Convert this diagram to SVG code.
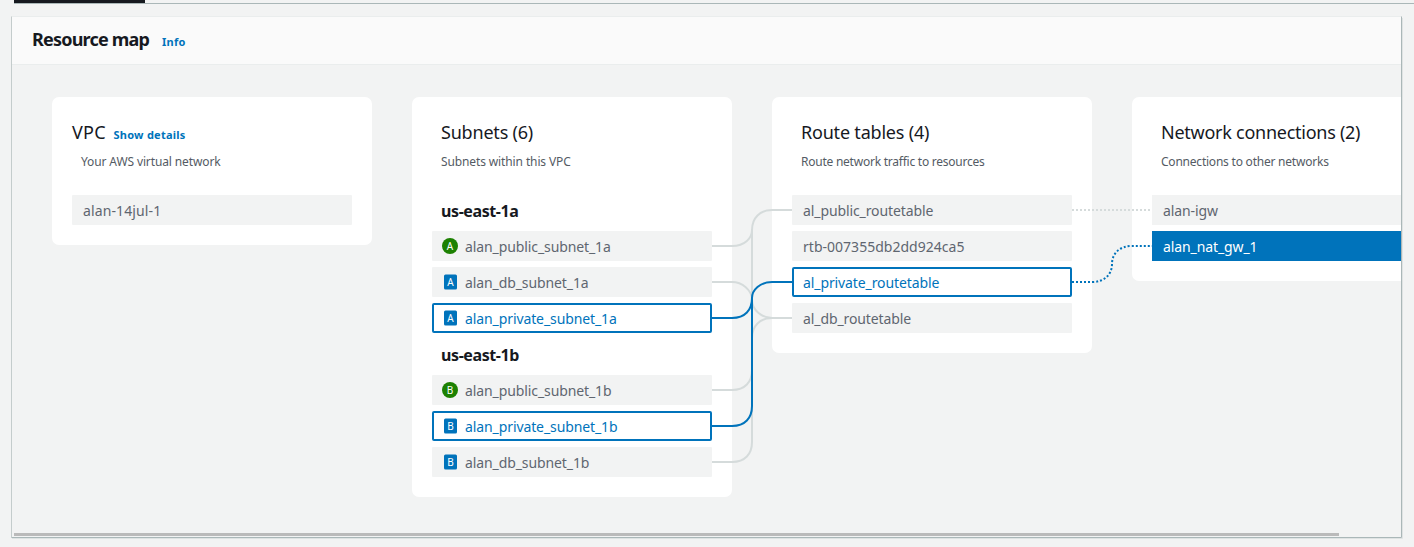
<svg xmlns="http://www.w3.org/2000/svg" width="1414" height="547" viewBox="0 0 1414 547">
<style>
text{font-family:"Noto Sans","Liberation Sans",sans-serif}
.card{fill:#fff}
.row{fill:#f2f3f3}
.t{font-size:14px;fill:#5f6670;letter-spacing:-.1px}
.sel{fill:#fff;stroke:#0073bb;stroke-width:2}
.b{fill:#0073bb}
.h{font-size:18px;fill:#16191f;letter-spacing:-.2px}
.sub{font-size:12px;fill:#545b64;letter-spacing:-.12px}
.az{font-size:16px;font-weight:700;fill:#16191f;letter-spacing:-.4px}
.link{font-size:11px;font-weight:700;fill:#0073bb;letter-spacing:.25px}
.badge{font-size:10px;fill:#fff;text-anchor:middle}
.c{fill:none;stroke:#d5dbdb;stroke-width:2}
.ca{fill:none;stroke:#0073bb;stroke-width:2}
</style>
<rect width="1414" height="547" fill="#f2f3f3"/>
<rect x="14" y="3" width="1400" height="1" fill="#aab7b8"/>
<rect x="14" y="0" width="131" height="3" fill="#16191f"/>
<g id="panel">
<rect x="12" y="17" width="1389" height="47" fill="#fafafa"/>
<rect x="12" y="64" width="1389" height="1" fill="#eaeded"/>
<path d="M11.500 16.500H1401.500" fill="none" stroke="#eaeded"/>
<path d="M11.500 16.500V537.500" fill="none" stroke="#c4cccc"/>
<path d="M1402.500 18V538.500H12" fill="none" stroke="#dfe3e3"/>
<path d="M1401.500 16.500V537.500H11.500" fill="none" stroke="#aab7b8"/>
<text x="32" y="46" font-size="18" font-weight="700" fill="#16191f" letter-spacing="-.8">Resource map</text>
<text x="162" y="46" class="link">Info</text>
<rect x="14" y="533" width="1325" height="3" fill="#bababa"/>
</g>
<g id="cards">
<rect class="card" x="52" y="97" width="320" height="148" rx="7"/>
<rect class="card" x="412" y="97" width="320" height="400" rx="7"/>
<rect class="card" x="772" y="97" width="320" height="256" rx="7"/>
<path class="card" d="M1401 97H1139a7 7 0 0 0-7 7V274a7 7 0 0 0 7 7H1401Z"/>
</g>
<g id="connectors">
<path class="c" d="M712 246H732C745 246 752 238 752 230C752 218 760 210 772 210H792"/>
<path class="c" d="M712 282H732C742 282 752 290 752 300C752 310 762 318 772 318H792"/>
<path class="c" d="M712 390H732C745 390 752 382 752 370V230"/>
<path class="c" d="M712 462H732C745 462 752 454 752 442V338C752 326 760 318 772 318"/>
<path class="c" stroke-dasharray="2 2" d="M1072 210H1152"/>
<path class="ca" d="M712 318H732C745 318 752 310 752 298C752 290 760 282 772 282H792"/>
<path class="ca" d="M712 426H732C745 426 752 418 752 406V298"/>
<path class="ca" stroke-dasharray="2 2" d="M1072 282H1092C1105 282 1112 274 1112 264C1112 254 1119 246 1132 246H1152"/>
</g>
<g id="vpc">
<text x="72" y="139" class="h" style="letter-spacing:.3px">VPC</text>
<text x="113.500" y="139" class="link">Show details</text>
<text x="81" y="166" class="sub">Your AWS virtual network</text>
<rect class="row" x="72" y="195" width="280" height="30" rx="1"/>
<text x="83" y="215.500" class="t" style="letter-spacing:.12px">alan-14jul-1</text>
</g>
<g id="subnets">
<text x="441" y="139" class="h">Subnets (6)</text>
<text x="441" y="166" class="sub">Subnets within this VPC</text>
<text x="441" y="217" class="az">us-east-1a</text>
<text x="441" y="361" class="az">us-east-1b</text>
</g>
<g id="alan_public_subnet_1a">
<rect class="row" x="432" y="231" width="280" height="30" rx="1"/>
<circle cx="450" cy="246" r="8" fill="#1d8102"/><text x="450" y="249.500" class="badge">A</text>
<text x="465" y="251.500" class="t">alan_public_subnet_1a</text>
</g>
<g id="alan_db_subnet_1a">
<rect class="row" x="432" y="267" width="280" height="30" rx="1"/>
<rect class="b" x="444" y="274.500" width="13" height="15" rx="1.500"/><text x="450.500" y="285.500" class="badge">A</text>
<text x="465" y="287.500" class="t">alan_db_subnet_1a</text>
</g>
<g id="alan_private_subnet_1a">
<rect class="sel" x="433" y="304" width="278" height="28" rx="1"/>
<rect class="b" x="444" y="310.500" width="13" height="15" rx="1.500"/><text x="450.500" y="321.500" class="badge">A</text>
<text x="465" y="323.500" class="t" style="fill:#0073bb">alan_private_subnet_1a</text>
</g>
<g id="alan_public_subnet_1b">
<rect class="row" x="432" y="375" width="280" height="30" rx="1"/>
<circle cx="450" cy="390" r="8" fill="#1d8102"/><text x="450" y="393.500" class="badge">B</text>
<text x="465" y="395.500" class="t">alan_public_subnet_1b</text>
</g>
<g id="alan_private_subnet_1b">
<rect class="sel" x="433" y="412" width="278" height="28" rx="1"/>
<rect class="b" x="444" y="418.500" width="13" height="15" rx="1.500"/><text x="450.500" y="429.500" class="badge">B</text>
<text x="465" y="431.500" class="t" style="fill:#0073bb">alan_private_subnet_1b</text>
</g>
<g id="alan_db_subnet_1b">
<rect class="row" x="432" y="447" width="280" height="30" rx="1"/>
<rect class="b" x="444" y="454.500" width="13" height="15" rx="1.500"/><text x="450.500" y="465.500" class="badge">B</text>
<text x="465" y="467.500" class="t">alan_db_subnet_1b</text>
</g>
<g id="route_tables">
<text x="801" y="139" class="h">Route tables (4)</text>
<text x="801" y="166" class="sub" style="letter-spacing:-.24px">Route network traffic to resources</text>
</g>
<g id="al_public_routetable">
<rect class="row" x="792" y="195" width="280" height="30" rx="1"/>
<text x="803" y="215.500" class="t">al_public_routetable</text>
</g>
<g id="rtb-007355db2dd924ca5">
<rect class="row" x="792" y="231" width="280" height="30" rx="1"/>
<text x="803" y="251.500" class="t" style="letter-spacing:.02px">rtb-007355db2dd924ca5</text>
</g>
<g id="al_private_routetable">
<rect class="sel" x="793" y="268" width="278" height="28" rx="1"/>
<text x="803" y="287.500" class="t" style="fill:#0073bb">al_private_routetable</text>
</g>
<g id="al_db_routetable">
<rect class="row" x="792" y="303" width="280" height="30" rx="1"/>
<text x="803" y="323.500" class="t">al_db_routetable</text>
</g>
<g id="network_connections">
<text x="1161" y="139" class="h" style="letter-spacing:-.26px">Network connections (2)</text>
<text x="1161" y="166" class="sub" style="letter-spacing:-.22px">Connections to other networks</text>
</g>
<g id="alan-igw">
<rect class="row" x="1152" y="195" width="249" height="30"/>
<text x="1163" y="215.500" class="t">alan-igw</text>
</g>
<g id="alan_nat_gw_1">
<rect class="b" x="1152" y="231" width="249" height="30"/>
<text x="1163" y="251.500" class="t" style="fill:#fff">alan_nat_gw_1</text>
</g>
</svg>
